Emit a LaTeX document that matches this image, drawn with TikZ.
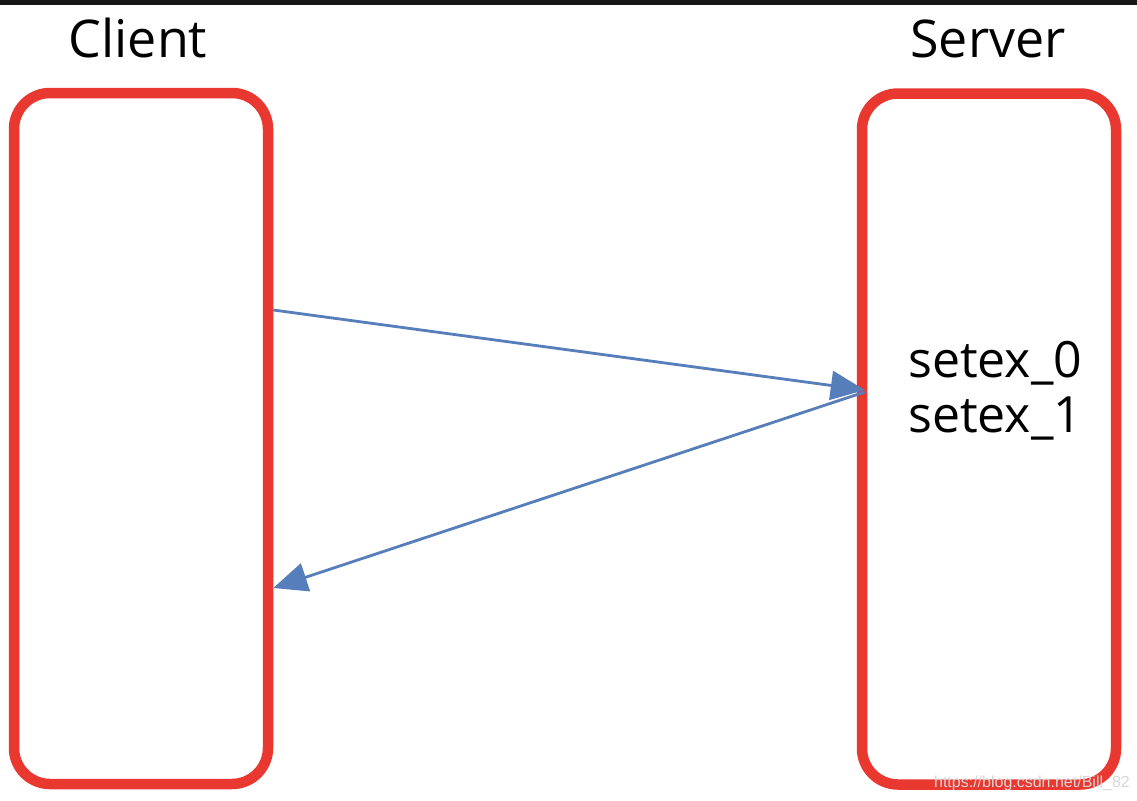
\documentclass[tikz,border=0pt]{standalone}
\usepackage{fontspec}
\setmainfont{Open Sans}
\newfontfamily\wmfont{Liberation Sans}
\usetikzlibrary{arrows.meta}
\definecolor{boxred}{RGB}{232,56,48}
\definecolor{arrowblue}{RGB}{86,126,186}
\definecolor{topbar}{RGB}{22,22,22}
\definecolor{wmgray}{RGB}{215,215,215}
\tikzset{
  peerbox/.style={draw=boxred, line width=10.5pt, rounded corners=36pt, minimum width=254pt, minimum height=691pt, inner sep=0pt},
  msg/.style={draw=arrowblue, line width=2.8pt, -{Triangle[length=34pt,width=29pt]}},
  title/.style={font=\fontsize{52}{60}\selectfont, anchor=base, inner sep=0pt},
}
\begin{document}
\begin{tikzpicture}[x=1pt,y=-1pt]
\useasboundingbox (0,0) rectangle (1137,800);
\fill[white] (0,0) rectangle (1137,800);
\fill[topbar] (0,0) rectangle (1137,5);
\node[peerbox] (client) at (141,438.5) {};
\node[peerbox] (server) at (989,439) {};
\node[title] (clientlbl) at (138,58) {Client};
\node[title] (serverlbl) at (988,58) {Server};
\node[anchor=base west, inner sep=0pt, align=left, font=\fontsize{50}{55}\selectfont] (keys) at (908,432) {setex\_0\\setex\_1};
\coordinate (s1) at (client.east |- 0,310);
\coordinate (e1) at ([xshift=8pt]server.west |- 0,390);
\coordinate (s2) at ([xshift=8pt]server.west |- 0,392);
\coordinate (e2) at (client.east |- 0,588);
\draw[msg] (s1) -- (e1);
\draw[msg] (s2) -- (e2);
\node[anchor=base east, inner sep=0pt, text=wmgray, font=\wmfont\fontsize{16}{18}\selectfont] (wm) at (1130,787) {https://blog.csdn.net/Bill\_82};
\end{tikzpicture}
\end{document}
